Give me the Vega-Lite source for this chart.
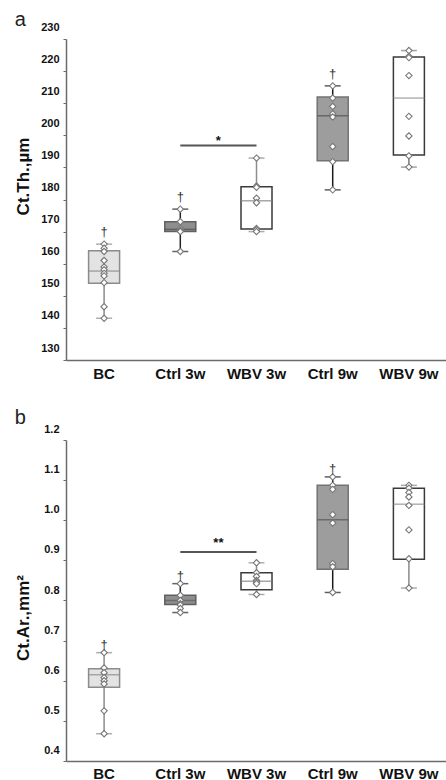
{
  "$schema": "https://vega.github.io/schema/vega-lite/v6.json",
  "padding": {"left": 14, "top": 10, "right": 0, "bottom": 0},
  "spacing": 26,
  "config": {
    "view": {"stroke": null},
    "font": "Liberation Sans",
    "axis": {"grid": false, "domainColor": "#6b6b6b", "domainWidth": 1.5, "tickColor": "#6b6b6b", "labelColor": "#111111", "labelFont": "Liberation Sans", "labelFontWeight": "bold", "titleFont": "Liberation Sans", "titleFontWeight": "bold", "titleColor": "#111111", "labelOverlap": false},
    "axisY": {"labelOverlap": false},
    "title": {"font": "Liberation Sans", "fontSize": 20, "fontWeight": "normal", "color": "#222222", "anchor": "start", "frame": "bounds", "baseline": "alphabetic"}
  },
  "datasets": {
    "thSum": [
      {"group": "BC", "lo": 143.0, "q1": 153.9, "med": 157.7, "q3": 164.0, "hi": 166.1, "dagger": "†"},
      {"group": "Ctrl 3w", "lo": 163.8, "q1": 170.0, "med": 170.7, "q3": 173.1, "hi": 177.0, "dagger": "†"},
      {"group": "WBV 3w", "lo": 170.0, "q1": 170.8, "med": 179.6, "q3": 184.0, "hi": 192.9, "dagger": ""},
      {"group": "Ctrl 9w", "lo": 183.0, "q1": 192.1, "med": 206.1, "q3": 211.9, "hi": 215.4, "dagger": "†"},
      {"group": "WBV 9w", "lo": 190.1, "q1": 193.9, "med": 211.6, "q3": 224.4, "hi": 226.4, "dagger": ""}
    ],
    "thPts": [
      {"group": "BC", "v": 166.1}, {"group": "BC", "v": 164.8}, {"group": "BC", "v": 163.8}, {"group": "BC", "v": 161.0}, {"group": "BC", "v": 159.0}, {"group": "BC", "v": 158.1}, {"group": "BC", "v": 157.0}, {"group": "BC", "v": 156.2}, {"group": "BC", "v": 154.1}, {"group": "BC", "v": 146.6}, {"group": "BC", "v": 143.0},
      {"group": "Ctrl 3w", "v": 177.0}, {"group": "Ctrl 3w", "v": 173.1}, {"group": "Ctrl 3w", "v": 171.0}, {"group": "Ctrl 3w", "v": 170.5}, {"group": "Ctrl 3w", "v": 170.2}, {"group": "Ctrl 3w", "v": 170.0}, {"group": "Ctrl 3w", "v": 163.8},
      {"group": "WBV 3w", "v": 192.9}, {"group": "WBV 3w", "v": 184.2}, {"group": "WBV 3w", "v": 183.8}, {"group": "WBV 3w", "v": 180.4}, {"group": "WBV 3w", "v": 179.0}, {"group": "WBV 3w", "v": 171.0}, {"group": "WBV 3w", "v": 170.6}, {"group": "WBV 3w", "v": 170.0},
      {"group": "Ctrl 9w", "v": 215.4}, {"group": "Ctrl 9w", "v": 211.6}, {"group": "Ctrl 9w", "v": 209.0}, {"group": "Ctrl 9w", "v": 206.7}, {"group": "Ctrl 9w", "v": 205.7}, {"group": "Ctrl 9w", "v": 196.5}, {"group": "Ctrl 9w", "v": 191.8}, {"group": "Ctrl 9w", "v": 183.0},
      {"group": "WBV 9w", "v": 226.4}, {"group": "WBV 9w", "v": 224.6}, {"group": "WBV 9w", "v": 224.2}, {"group": "WBV 9w", "v": 218.6}, {"group": "WBV 9w", "v": 205.9}, {"group": "WBV 9w", "v": 199.8}, {"group": "WBV 9w", "v": 193.6}, {"group": "WBV 9w", "v": 190.1}
    ],
    "thSig": [
      {"group": "Ctrl 3w", "y": 196.8, "star": "*"},
      {"group": "WBV 3w", "y": 196.8, "star": ""}
    ],
    "arSum": [
      {"group": "BC", "lo": 0.468, "q1": 0.584, "med": 0.615, "q3": 0.630, "hi": 0.670, "dagger": "†"},
      {"group": "Ctrl 3w", "lo": 0.770, "q1": 0.790, "med": 0.800, "q3": 0.813, "hi": 0.842, "dagger": "†"},
      {"group": "WBV 3w", "lo": 0.815, "q1": 0.827, "med": 0.848, "q3": 0.869, "hi": 0.894, "dagger": ""},
      {"group": "Ctrl 9w", "lo": 0.820, "q1": 0.878, "med": 1.001, "q3": 1.087, "hi": 1.108, "dagger": "†"},
      {"group": "WBV 9w", "lo": 0.831, "q1": 0.903, "med": 1.040, "q3": 1.080, "hi": 1.087, "dagger": ""}
    ],
    "arPts": [
      {"group": "BC", "v": 0.670}, {"group": "BC", "v": 0.632}, {"group": "BC", "v": 0.620}, {"group": "BC", "v": 0.608}, {"group": "BC", "v": 0.600}, {"group": "BC", "v": 0.592}, {"group": "BC", "v": 0.525}, {"group": "BC", "v": 0.468},
      {"group": "Ctrl 3w", "v": 0.842}, {"group": "Ctrl 3w", "v": 0.813}, {"group": "Ctrl 3w", "v": 0.800}, {"group": "Ctrl 3w", "v": 0.792}, {"group": "Ctrl 3w", "v": 0.789}, {"group": "Ctrl 3w", "v": 0.780}, {"group": "Ctrl 3w", "v": 0.770},
      {"group": "WBV 3w", "v": 0.894}, {"group": "WBV 3w", "v": 0.869}, {"group": "WBV 3w", "v": 0.860}, {"group": "WBV 3w", "v": 0.850}, {"group": "WBV 3w", "v": 0.846}, {"group": "WBV 3w", "v": 0.842}, {"group": "WBV 3w", "v": 0.815},
      {"group": "Ctrl 9w", "v": 1.108}, {"group": "Ctrl 9w", "v": 1.087}, {"group": "Ctrl 9w", "v": 1.077}, {"group": "Ctrl 9w", "v": 1.014}, {"group": "Ctrl 9w", "v": 0.993}, {"group": "Ctrl 9w", "v": 0.892}, {"group": "Ctrl 9w", "v": 0.884}, {"group": "Ctrl 9w", "v": 0.820},
      {"group": "WBV 9w", "v": 1.087}, {"group": "WBV 9w", "v": 1.080}, {"group": "WBV 9w", "v": 1.069}, {"group": "WBV 9w", "v": 1.058}, {"group": "WBV 9w", "v": 1.037}, {"group": "WBV 9w", "v": 0.976}, {"group": "WBV 9w", "v": 0.904}, {"group": "WBV 9w", "v": 0.831}
    ],
    "arSig": [
      {"group": "Ctrl 3w", "y": 0.921, "star": "**"},
      {"group": "WBV 3w", "y": 0.921, "star": ""}
    ]
  },
  "vconcat": [
    {
      "title": {"text": "a", "offset": -9},
      "width": 381,
      "height": 321,
      "encoding": {
        "x": {"field": "group", "type": "nominal", "sort": ["BC", "Ctrl 3w", "WBV 3w", "Ctrl 9w", "WBV 9w"], "scale": {"type": "band", "paddingInner": 0, "paddingOuter": 0}, "axis": {"title": null, "labelAngle": 0, "labelFontSize": 15, "ticks": false, "labelPadding": 6}}
      },
      "resolve": {"scale": {"color": "independent"}},
      "layer": [
        {
          "data": {"name": "thSum"},
          "mark": {"type": "rule", "strokeWidth": 1.5},
          "encoding": {
            "y": {"field": "lo", "type": "quantitative", "scale": {"domain": [130, 230], "nice": false, "zero": false}, "axis": {"title": "Ct.Th.,µm", "values": [130, 140, 150, 160, 170, 180, 190, 200, 210, 220, 230], "tickCount": 11, "labelOverlap": false, "labelSeparation": 0, "labelOffset": -12, "tickSize": 3, "labelPadding": 4, "labelFontSize": 11, "titleFontSize": 17, "titlePadding": 8, "titleY": 137}},
            "y2": {"field": "hi"},
            "color": {"field": "group", "type": "nominal", "scale": {"domain": ["BC", "Ctrl 3w", "WBV 3w", "Ctrl 9w", "WBV 9w"], "range": ["#8c8c8c", "#222222", "#8c8c8c", "#1a1a1a", "#7a7a7a"]}, "legend": null}
          }
        },
        {
          "data": {"name": "thSum"},
          "mark": {"type": "tick", "orient": "horizontal", "size": 16, "thickness": 1.5},
          "encoding": {
            "y": {"field": "lo", "type": "quantitative", "axis": {"title": "Ct.Th.,µm", "values": [130, 140, 150, 160, 170, 180, 190, 200, 210, 220, 230], "tickCount": 11, "labelOverlap": false, "labelSeparation": 0, "labelOffset": -12, "tickSize": 3, "labelPadding": 4, "labelFontSize": 11, "titleFontSize": 17, "titlePadding": 8, "titleY": 137}},
            "color": {"field": "group", "type": "nominal", "scale": {"domain": ["BC", "Ctrl 3w", "WBV 3w", "Ctrl 9w", "WBV 9w"], "range": ["#8c8c8c", "#222222", "#8c8c8c", "#1a1a1a", "#7a7a7a"]}, "legend": null}
          }
        },
        {
          "data": {"name": "thSum"},
          "mark": {"type": "tick", "orient": "horizontal", "size": 16, "thickness": 1.5},
          "encoding": {
            "y": {"field": "hi", "type": "quantitative", "axis": {"title": "Ct.Th.,µm", "values": [130, 140, 150, 160, 170, 180, 190, 200, 210, 220, 230], "tickCount": 11, "labelOverlap": false, "labelSeparation": 0, "labelOffset": -12, "tickSize": 3, "labelPadding": 4, "labelFontSize": 11, "titleFontSize": 17, "titlePadding": 8, "titleY": 137}},
            "color": {"field": "group", "type": "nominal", "scale": {"domain": ["BC", "Ctrl 3w", "WBV 3w", "Ctrl 9w", "WBV 9w"], "range": ["#8c8c8c", "#222222", "#8c8c8c", "#1a1a1a", "#7a7a7a"]}, "legend": null}
          }
        },
        {
          "data": {"name": "thSum"},
          "mark": {"type": "bar", "width": 31, "strokeWidth": 1.5},
          "encoding": {
            "y": {"field": "q1", "type": "quantitative", "axis": {"title": "Ct.Th.,µm", "values": [130, 140, 150, 160, 170, 180, 190, 200, 210, 220, 230], "tickCount": 11, "labelOverlap": false, "labelSeparation": 0, "labelOffset": -12, "tickSize": 3, "labelPadding": 4, "labelFontSize": 11, "titleFontSize": 17, "titlePadding": 8, "titleY": 137}},
            "y2": {"field": "q3"},
            "fill": {"field": "group", "type": "nominal", "scale": {"domain": ["BC", "Ctrl 3w", "WBV 3w", "Ctrl 9w", "WBV 9w"], "range": ["#e3e3e3", "#8e8e8e", "#ffffff", "#9d9d9d", "#ffffff"]}, "legend": null},
            "stroke": {"field": "group", "type": "nominal", "scale": {"domain": ["BC", "Ctrl 3w", "WBV 3w", "Ctrl 9w", "WBV 9w"], "range": ["#8c8c8c", "#606060", "#3a3a3a", "#737373", "#3a3a3a"]}, "legend": null}
          }
        },
        {
          "data": {"name": "thSum"},
          "mark": {"type": "tick", "orient": "horizontal", "size": 31, "thickness": 1.5},
          "encoding": {
            "y": {"field": "med", "type": "quantitative", "axis": {"title": "Ct.Th.,µm", "values": [130, 140, 150, 160, 170, 180, 190, 200, 210, 220, 230], "tickCount": 11, "labelOverlap": false, "labelSeparation": 0, "labelOffset": -12, "tickSize": 3, "labelPadding": 4, "labelFontSize": 11, "titleFontSize": 17, "titlePadding": 8, "titleY": 137}},
            "color": {"field": "group", "type": "nominal", "scale": {"domain": ["BC", "Ctrl 3w", "WBV 3w", "Ctrl 9w", "WBV 9w"], "range": ["#8a8a8a", "#505050", "#808080", "#505050", "#909090"]}, "legend": null}
          }
        },
        {
          "data": {"name": "thPts"},
          "mark": {"type": "point", "shape": "diamond", "filled": true, "fill": "#ffffff", "stroke": "#777777", "strokeWidth": 1.1, "size": 40, "opacity": 1},
          "encoding": {
            "y": {"field": "v", "type": "quantitative", "axis": {"title": "Ct.Th.,µm", "values": [130, 140, 150, 160, 170, 180, 190, 200, 210, 220, 230], "tickCount": 11, "labelOverlap": false, "labelSeparation": 0, "labelOffset": -12, "tickSize": 3, "labelPadding": 4, "labelFontSize": 11, "titleFontSize": 17, "titlePadding": 8, "titleY": 137}}
          }
        },
        {
          "data": {"name": "thSum"},
          "transform": [{"filter": "datum.dagger != ''"}],
          "mark": {"type": "text", "fontSize": 13, "baseline": "alphabetic", "dy": -8},
          "encoding": {
            "y": {"field": "hi", "type": "quantitative", "axis": {"title": "Ct.Th.,µm", "values": [130, 140, 150, 160, 170, 180, 190, 200, 210, 220, 230], "tickCount": 11, "labelOverlap": false, "labelSeparation": 0, "labelOffset": -12, "tickSize": 3, "labelPadding": 4, "labelFontSize": 11, "titleFontSize": 17, "titlePadding": 8, "titleY": 137}},
            "text": {"field": "dagger"},
            "color": {"value": "#333333"}
          }
        },
        {
          "data": {"name": "thSig"},
          "mark": {"type": "line", "strokeWidth": 2},
          "encoding": {
            "y": {"field": "y", "type": "quantitative", "axis": {"title": "Ct.Th.,µm", "values": [130, 140, 150, 160, 170, 180, 190, 200, 210, 220, 230], "tickCount": 11, "labelOverlap": false, "labelSeparation": 0, "labelOffset": -12, "tickSize": 3, "labelPadding": 4, "labelFontSize": 11, "titleFontSize": 17, "titlePadding": 8, "titleY": 137}},
            "color": {"value": "#555555"}
          }
        },
        {
          "data": {"name": "thSig"},
          "transform": [{"filter": "datum.star != ''"}],
          "mark": {"type": "text", "fontSize": 13, "fontWeight": "bold", "baseline": "alphabetic", "dy": -1},
          "encoding": {
            "x": {"field": "group", "type": "nominal", "sort": ["BC", "Ctrl 3w", "WBV 3w", "Ctrl 9w", "WBV 9w"], "bandPosition": 1},
            "y": {"field": "y", "type": "quantitative", "axis": {"title": "Ct.Th.,µm", "values": [130, 140, 150, 160, 170, 180, 190, 200, 210, 220, 230], "tickCount": 11, "labelOverlap": false, "labelSeparation": 0, "labelOffset": -12, "tickSize": 3, "labelPadding": 4, "labelFontSize": 11, "titleFontSize": 17, "titlePadding": 8, "titleY": 137}},
            "text": {"field": "star"},
            "color": {"value": "#111111"}
          }
        }
      ]
    },
    {
      "title": {"text": "b", "offset": -4},
      "width": 381,
      "height": 321,
      "encoding": {
        "x": {"field": "group", "type": "nominal", "sort": ["BC", "Ctrl 3w", "WBV 3w", "Ctrl 9w", "WBV 9w"], "scale": {"type": "band", "paddingInner": 0, "paddingOuter": 0}, "axis": {"title": null, "labelAngle": 0, "labelFontSize": 15, "ticks": false, "labelPadding": 5}}
      },
      "resolve": {"scale": {"color": "independent"}},
      "layer": [
        {
          "data": {"name": "arSum"},
          "mark": {"type": "rule", "strokeWidth": 1.5},
          "encoding": {
            "y": {"field": "lo", "type": "quantitative", "scale": {"domain": [0.4, 1.2], "nice": false, "zero": false}, "axis": {"title": "Ct.Ar.,mm²", "values": [0.4, 0.5, 0.6, 0.7, 0.8, 0.9, 1.0, 1.1, 1.2], "format": ".1f", "labelOverlap": false, "labelOffset": -10.5, "tickSize": 3, "labelPadding": 4, "labelFontSize": 11, "titleFontSize": 17, "titlePadding": 11, "titleY": 177.5}},
            "y2": {"field": "hi"},
            "color": {"field": "group", "type": "nominal", "scale": {"domain": ["BC", "Ctrl 3w", "WBV 3w", "Ctrl 9w", "WBV 9w"], "range": ["#8c8c8c", "#222222", "#8c8c8c", "#1a1a1a", "#8a8a8a"]}, "legend": null}
          }
        },
        {
          "data": {"name": "arSum"},
          "mark": {"type": "tick", "orient": "horizontal", "size": 16, "thickness": 1.5},
          "encoding": {
            "y": {"field": "lo", "type": "quantitative"},
            "color": {"field": "group", "type": "nominal", "scale": {"domain": ["BC", "Ctrl 3w", "WBV 3w", "Ctrl 9w", "WBV 9w"], "range": ["#8c8c8c", "#222222", "#8c8c8c", "#1a1a1a", "#8a8a8a"]}, "legend": null}
          }
        },
        {
          "data": {"name": "arSum"},
          "mark": {"type": "tick", "orient": "horizontal", "size": 16, "thickness": 1.5},
          "encoding": {
            "y": {"field": "hi", "type": "quantitative"},
            "color": {"field": "group", "type": "nominal", "scale": {"domain": ["BC", "Ctrl 3w", "WBV 3w", "Ctrl 9w", "WBV 9w"], "range": ["#8c8c8c", "#222222", "#8c8c8c", "#1a1a1a", "#8a8a8a"]}, "legend": null}
          }
        },
        {
          "data": {"name": "arSum"},
          "mark": {"type": "bar", "width": 31, "strokeWidth": 1.5},
          "encoding": {
            "y": {"field": "q1", "type": "quantitative"},
            "y2": {"field": "q3"},
            "fill": {"field": "group", "type": "nominal", "scale": {"domain": ["BC", "Ctrl 3w", "WBV 3w", "Ctrl 9w", "WBV 9w"], "range": ["#e3e3e3", "#8e8e8e", "#ffffff", "#9d9d9d", "#ffffff"]}, "legend": null},
            "stroke": {"field": "group", "type": "nominal", "scale": {"domain": ["BC", "Ctrl 3w", "WBV 3w", "Ctrl 9w", "WBV 9w"], "range": ["#8c8c8c", "#a0a0a0", "#3a3a3a", "#a8a8a8", "#3a3a3a"]}, "legend": null}
          }
        },
        {
          "data": {"name": "arSum"},
          "mark": {"type": "tick", "orient": "horizontal", "size": 31, "thickness": 1.5},
          "encoding": {
            "y": {"field": "med", "type": "quantitative"},
            "color": {"field": "group", "type": "nominal", "scale": {"domain": ["BC", "Ctrl 3w", "WBV 3w", "Ctrl 9w", "WBV 9w"], "range": ["#8a8a8a", "#606060", "#808080", "#555555", "#909090"]}, "legend": null}
          }
        },
        {
          "data": {"name": "arPts"},
          "mark": {"type": "point", "shape": "diamond", "filled": true, "fill": "#ffffff", "stroke": "#777777", "strokeWidth": 1.1, "size": 40, "opacity": 1},
          "encoding": {
            "y": {"field": "v", "type": "quantitative"}
          }
        },
        {
          "data": {"name": "arSum"},
          "transform": [{"filter": "datum.dagger != ''"}],
          "mark": {"type": "text", "fontSize": 13, "baseline": "alphabetic", "dy": -4},
          "encoding": {
            "y": {"field": "hi", "type": "quantitative"},
            "text": {"field": "dagger"},
            "color": {"value": "#333333"}
          }
        },
        {
          "data": {"name": "arSig"},
          "mark": {"type": "line", "strokeWidth": 2},
          "encoding": {
            "y": {"field": "y", "type": "quantitative"},
            "color": {"value": "#555555"}
          }
        },
        {
          "data": {"name": "arSig"},
          "transform": [{"filter": "datum.star != ''"}],
          "mark": {"type": "text", "fontSize": 13, "fontWeight": "bold", "baseline": "alphabetic", "dy": -5},
          "encoding": {
            "x": {"field": "group", "type": "nominal", "sort": ["BC", "Ctrl 3w", "WBV 3w", "Ctrl 9w", "WBV 9w"], "bandPosition": 1},
            "y": {"field": "y", "type": "quantitative"},
            "text": {"field": "star"},
            "color": {"value": "#111111"}
          }
        }
      ]
    }
  ]
}
